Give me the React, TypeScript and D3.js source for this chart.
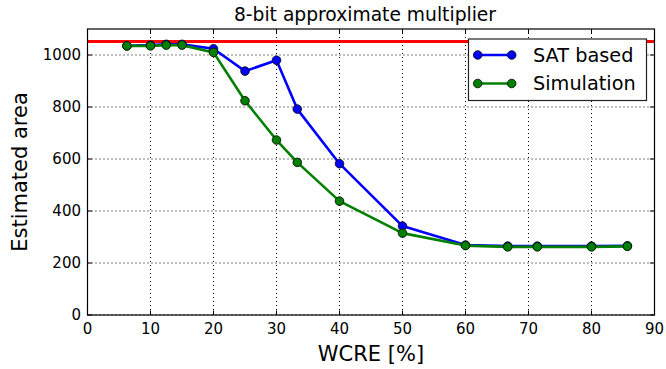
import React from "react";
import * as d3 from "d3";

const wcre = [6.25, 10, 12.5, 15, 20, 25, 30, 33.3, 40, 50, 60, 66.7, 71.4, 80, 85.7];
const satBased = [1035, 1038, 1041, 1041, 1024, 938, 980, 792, 582, 342, 269, 265, 265, 265, 266];
const simulation = [1035, 1035, 1038, 1038, 1010, 824, 673, 587, 438, 315, 267, 262, 262, 262, 264];
const exactArea = 1052;
const xTicks = [0, 10, 20, 30, 40, 50, 60, 70, 80, 90];
const yTicks = [0, 200, 400, 600, 800, 1000];
const seriesNames = ["SAT based", "Simulation"];
const seriesColors = ["#0000ff", "#008000"];

const W = 666, H = 369;
const L = 87.5, R = 654.5, T = 29, B = 315;
const FONT = "DejaVu Sans, sans-serif";

export default function App() {
  const x = d3.scaleLinear().domain([0, 90]).range([L, R]);
  const y = d3.scaleLinear().domain([0, 1100]).range([B, T]);
  const series = [satBased, simulation];
  const line = d3
    .line<[number, number]>()
    .x((d) => x(d[0]))
    .y((d) => y(d[1]));
  const tickLen = 4.5;
  return (
    <div style={{ position: "absolute", left: 0, top: 0 }}>
      <svg width={W} height={H} style={{ display: "block", background: "#fff" }} fontFamily={FONT}>
        <rect x={0} y={0} width={W} height={H} fill="#fff" />
        {/* grid */}
        {xTicks.map((t) => (
          <line key={"gx" + t} x1={x(t)} x2={x(t)} y1={T} y2={B} stroke="#000" strokeWidth={1} strokeDasharray="1,3" />
        ))}
        {yTicks.map((t) => (
          <line key={"gy" + t} x1={L} x2={R} y1={y(t)} y2={y(t)} stroke="#000" strokeWidth={1} strokeDasharray="1,3" />
        ))}
        {/* red reference line */}
        <line x1={L} x2={R} y1={y(exactArea)} y2={y(exactArea)} stroke="#ff0000" strokeWidth={3} />
        {/* series */}
        {series.map((s, i) => (
          <g key={"s" + i}>
            <path
              d={line(wcre.map((w, j) => [w, s[j]] as [number, number])) || ""}
              fill="none"
              stroke={seriesColors[i]}
              strokeWidth={2.6}
              strokeLinejoin="round"
            />
            {wcre.map((w, j) => (
              <circle key={j} cx={x(w)} cy={y(s[j])} r={4.3} fill={seriesColors[i]} stroke="#000" strokeWidth={0.8} />
            ))}
          </g>
        ))}
        {/* ticks */}
        {xTicks.map((t) => (
          <g key={"tx" + t}>
            <line x1={x(t)} x2={x(t)} y1={B} y2={B - tickLen} stroke="#000" strokeWidth={1} />
            <line x1={x(t)} x2={x(t)} y1={T} y2={T + tickLen} stroke="#000" strokeWidth={1} />
            <text x={x(t)} y={334} textAnchor="middle" fontSize={15} fill="#000">
              {t}
            </text>
          </g>
        ))}
        {yTicks.map((t) => (
          <g key={"ty" + t}>
            <line x1={L} x2={L + tickLen} y1={y(t)} y2={y(t)} stroke="#000" strokeWidth={1} />
            <line x1={R} x2={R - tickLen} y1={y(t)} y2={y(t)} stroke="#000" strokeWidth={1} />
            <text x={81} y={y(t) + 5.3} textAnchor="end" fontSize={15} fill="#000">
              {t}
            </text>
          </g>
        ))}
        {/* spines */}
        <rect x={L} y={T} width={R - L} height={B - T} fill="none" stroke="#000" strokeWidth={1.2} />
        {/* title & labels */}
        <text x={365} y={21} textAnchor="middle" fontSize={18.7} fill="#000">
          8-bit approximate multiplier
        </text>
        <text x={371} y={361} textAnchor="middle" fontSize={21} fill="#000">
          WCRE [%]
        </text>
        <text transform={`translate(27,${(T + B) / 2}) rotate(-90)`} textAnchor="middle" fontSize={21} fill="#000">
          Estimated area
        </text>
        {/* legend */}
        <g>
          <rect x={468.5} y={39} width={178} height={61.5} fill="#fff" stroke="#222" strokeWidth={1.2} />
          {seriesNames.map((n, i) => {
            const ly = 55 + i * 28.5;
            return (
              <g key={"lg" + i}>
                <line x1={477.7} x2={511.7} y1={ly} y2={ly} stroke={seriesColors[i]} strokeWidth={2.6} />
                <circle cx={477.7} cy={ly} r={4.3} fill={seriesColors[i]} stroke="#000" strokeWidth={0.8} />
                <circle cx={511.7} cy={ly} r={4.3} fill={seriesColors[i]} stroke="#000" strokeWidth={0.8} />
                <text x={533} y={ly + 6.8} fontSize={19.3} fill="#000">
                  {n}
                </text>
              </g>
            );
          })}
        </g>
      </svg>
    </div>
  );
}
